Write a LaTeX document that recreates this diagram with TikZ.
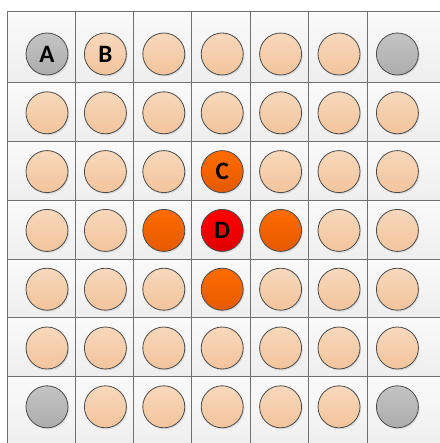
\documentclass[tikz,border=0pt]{standalone}
\usepackage{fontspec}
\setmainfont{Carlito}
\usetikzlibrary{shadows}
\definecolor{gridline}{HTML}{707070}
\definecolor{cellTop}{HTML}{FAFAFA}
\definecolor{cellBot}{HTML}{EEEEEE}
\definecolor{peachTop}{HTML}{F8D8BC}
\definecolor{peachBot}{HTML}{F2C49C}
\definecolor{grayTop}{HTML}{C4C4C4}
\definecolor{grayBot}{HTML}{ACACAC}
\definecolor{orangeTop}{HTML}{FF6C00}
\definecolor{orangeBot}{HTML}{E45A00}
\definecolor{redTop}{HTML}{FF0000}
\definecolor{redBot}{HTML}{E00000}
\definecolor{rimc}{HTML}{4A4A4A}
\tikzset{
  cellbox/.style={top color=cellTop, bottom color=cellBot, draw=none},
  well/.style={circle, minimum size=42pt, inner sep=0pt, draw=rimc, line width=0.8pt,
    drop shadow={shadow xshift=1.2pt, shadow yshift=-1.5pt, opacity=0.18}},
  peach/.style={well, top color=peachTop, bottom color=peachBot},
  grayw/.style={well, top color=grayTop, bottom color=grayBot},
  orangew/.style={well, top color=orangeTop, bottom color=orangeBot},
  redw/.style={well, top color=redTop, bottom color=redBot},
  lbl/.style={font=\fontsize{25}{27}\selectfont\bfseries, inner sep=0pt},
  gline/.style={draw=gridline, line width=1pt},
}
\begin{document}
\begin{tikzpicture}[x=1pt,y=-1pt]
\useasboundingbox (0,0) rectangle (439,443);
\fill[white] (0,0) rectangle (439,443);
% cells
\foreach \i in {0,...,6}{
  \foreach \j in {0,...,6}{
    \pgfmathsetmacro{\xa}{\i==0 ? 7 : 75+58.4*(\i-1)}
    \pgfmathsetmacro{\xb}{\i==6 ? 445 : 75+58.4*\i}
    \pgfmathsetmacro{\ya}{\j==0 ? 11.7 : 82.7+58.8*(\j-1)}
    \pgfmathsetmacro{\yb}{\j==6 ? 450 : 82.7+58.8*\j}
    \path[cellbox] (\xa,\ya) rectangle (\xb,\yb);
  }
}
% grid lines
\coordinate (tl) at (7,11.7);
\coordinate (tr) at (445,11.7);
\coordinate (bl) at (7,450);
\draw[gline] (tr) -- (tl) -- (bl);
\foreach \k in {0,...,5}{
  \draw[gline] ({75+58.4*\k},11.7) -- ({75+58.4*\k},450);
  \draw[gline] (7,{82.7+58.8*\k}) -- (445,{82.7+58.8*\k});
}
% wells
\foreach \i in {0,...,6}{
  \foreach \j in {0,...,6}{
    \pgfmathtruncatemacro{\isgray}{(\i==0 || \i==6) && (\j==0 || \j==6) ? 1 : 0}
    \pgfmathtruncatemacro{\isorange}{(\i==3 && (\j==2 || \j==4)) || (\j==3 && (\i==2 || \i==4)) ? 1 : 0}
    \pgfmathtruncatemacro{\isred}{\i==3 && \j==3 ? 1 : 0}
    \ifnum\isgray=1
      \node[grayw] (w\i\j) at ({47+58.4*\i},{54+58.8*\j}) {};
    \else\ifnum\isred=1
      \node[redw] (w\i\j) at ({47+58.4*\i},{54+58.8*\j}) {};
    \else\ifnum\isorange=1
      \node[orangew] (w\i\j) at ({47+58.4*\i},{54+58.8*\j}) {};
    \else
      \node[peach] (w\i\j) at ({47+58.4*\i},{54+58.8*\j}) {};
    \fi\fi\fi
  }
}
\node[lbl] (la) at (w00) {A};
\node[lbl] (lb) at (w10) {B};
\node[lbl] (lc) at (w32) {C};
\node[lbl] (ld) at (w33) {D};
\end{tikzpicture}
\end{document}
